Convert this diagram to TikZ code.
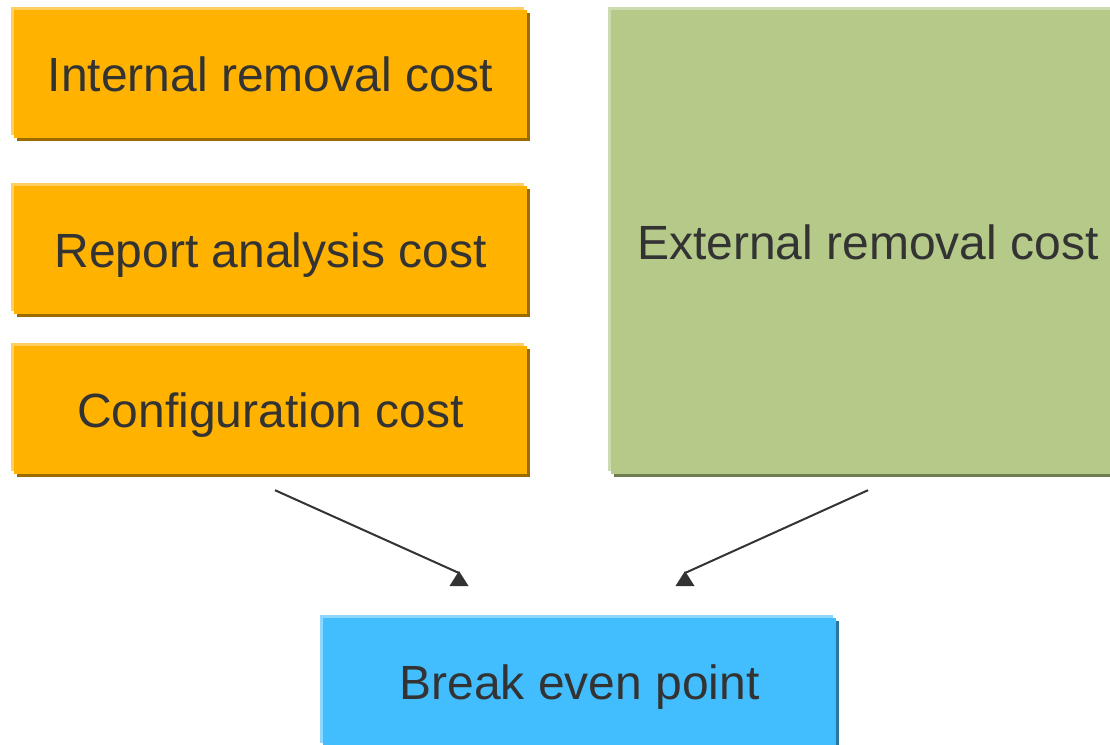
\documentclass[tikz,border=0pt]{standalone}
\usepackage{fontspec}
\setmainfont{Liberation Sans}
\usetikzlibrary{shadows,calc}
\definecolor{orMain}{HTML}{FFB300}
\definecolor{orLight}{HTML}{FFD05F}
\definecolor{orDark}{HTML}{9C6B00}
\definecolor{grMain}{HTML}{B5CA88}
\definecolor{grLight}{HTML}{CDDBB0}
\definecolor{grDark}{HTML}{6F7D4E}
\definecolor{blMain}{HTML}{42BEFF}
\definecolor{blLight}{HTML}{8DD7FF}
\definecolor{blDark}{HTML}{2B76A0}
\definecolor{txt}{HTML}{333333}
\tikzset{
  costbox/.style n args={3}{rectangle, inner sep=0pt, fill=#1,
    general shadow={fill=#3, shadow xshift=2.5pt, shadow yshift=-3pt},
    general shadow={fill=#2, shadow xshift=-3pt, shadow yshift=3pt},
    text=txt, font=\fontsize{48pt}{56pt}\selectfont,
    text height=34pt, text depth=0pt},
  orbox/.style={costbox={orMain}{orLight}{orDark}, minimum width=513pt, minimum height=128pt},
  grbox/.style={costbox={grMain}{grLight}{grDark}, minimum width=514pt, minimum height=464pt},
  blbox/.style={costbox={blMain}{blLight}{blDark}, minimum width=513pt, minimum height=128pt},
  conn/.style={draw=txt, line width=2pt},
  tip/.style={fill=txt}
}
\begin{document}
\begin{tikzpicture}[x=1pt,y=-1pt]
\useasboundingbox (0,0) rectangle (1110,744);
\clip (0,0) rectangle (1110,744);
\fill[white] (0,0) rectangle (1110,744);
\node[orbox] (internal) at (270.5,74) {Internal removal cost};
\node[orbox] (report) at (270.5,250) {Report analysis cost};
\node[orbox] (config) at (270.5,410) {Configuration cost};
\node[grbox] (external) at (868,242) {External removal cost};
\node[blbox] (breakeven) at (579.5,682) {Break even point};
\coordinate (s1) at ($(config.south)+(4.5,16)$);
\coordinate (s2) at ($(external.south)+(0,16)$);
\coordinate (e1) at (459,573);
\coordinate (e2) at (685,573);
\draw[conn] (s1) -- (e1);
\draw[conn] (s2) -- (e2);
\fill[tip] ($(e1)+(0,-2)$) -- ++(9.5,15) -- ++(-19,0) -- cycle;
\fill[tip] ($(e2)+(0,-2)$) -- ++(9.5,15) -- ++(-19,0) -- cycle;
\end{tikzpicture}
\end{document}
